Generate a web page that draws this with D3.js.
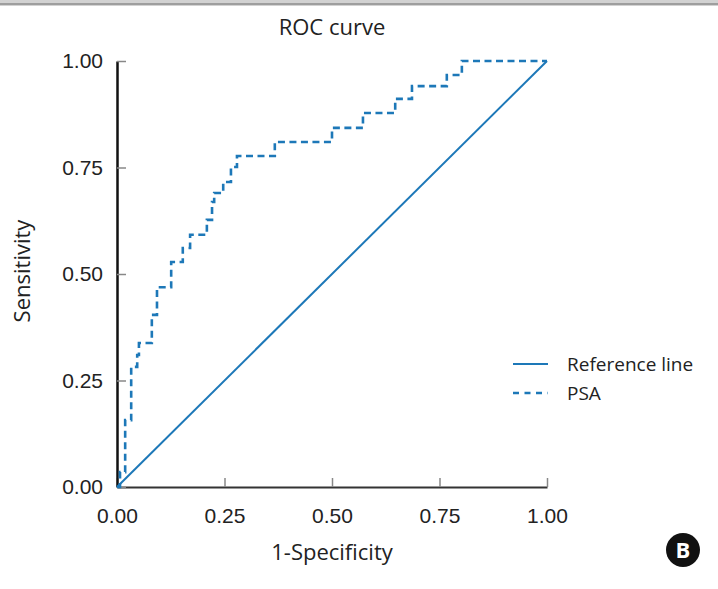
<!DOCTYPE html>
<html>
<head>
<meta charset="utf-8">
<script src="https://cdn.jsdelivr.net/npm/d3@7"></script>
<style>
  html, body { margin: 0; padding: 0; background: #fff; }
  svg { display: block; font-family: "Open Sans", "Noto Sans", sans-serif; }
</style>
</head>
<body>
<div id="chart"></div>
<script>
// ── Data ──
const ticks = [0, 0.25, 0.5, 0.75, 1];
const refFpr = [0, 1];
const refTpr = [0, 1];
// PSA ROC operating points (1-specificity, sensitivity)
const psaFpr = [0, 0.007, 0.019, 0.033, 0.047, 0.051, 0.081, 0.093, 0.126, 0.153, 0.170, 0.209, 0.221,
                0.226, 0.247, 0.265, 0.279, 0.367, 0.500, 0.572, 0.647, 0.686, 0.767, 0.802, 1.000];
const psaTpr = [0, 0.035, 0.157, 0.282, 0.310, 0.338, 0.404, 0.469, 0.528, 0.561, 0.592, 0.627, 0.669,
                0.690, 0.716, 0.751, 0.777, 0.810, 0.843, 0.878, 0.911, 0.941, 0.967, 1.000, 1.000];
const legendLabels = ['Reference line', 'PSA'];

const BLUE = '#1d78b8';
const W = 718, H = 589;
const plot = { left: 117, right: 547, top: 61, bottom: 487 };

const svg = d3.select('#chart').append('svg').attr('width', W).attr('height', H);

// grey strip across the top edge
svg.append('rect').attr('x', 0).attr('y', 0).attr('width', W).attr('height', 6).attr('fill', '#d2d2d2');
svg.append('line').attr('x1', 0).attr('x2', W).attr('y1', 4).attr('y2', 4)
  .attr('stroke', '#8c8c8c').attr('stroke-width', 1.5);

const x = d3.scaleLinear().domain([0, 1]).range([plot.left, plot.right]);
const y = d3.scaleLinear().domain([0, 1]).range([plot.bottom, plot.top]);
const fmt = d3.format('.2f');

// ── Axes ──
const gx = svg.append('g').attr('transform', 'translate(0,' + plot.bottom + ')')
  .call(d3.axisBottom(x).tickValues(ticks).tickFormat(fmt).tickSizeInner(-9).tickSizeOuter(0).tickPadding(21));
gx.select('.domain').attr('stroke', '#333').attr('stroke-width', 2);
gx.selectAll('.tick line').attr('stroke', '#888').attr('stroke-width', 1.5);
gx.selectAll('.tick text').style('font-size', '21px').attr('fill', '#222');

const gy = svg.append('g').attr('transform', 'translate(' + plot.left + ',0)')
  .call(d3.axisLeft(y).tickValues(ticks).tickFormat(fmt).tickSizeInner(-9).tickSizeOuter(0).tickPadding(14));
gy.select('.domain').attr('stroke', '#111').attr('stroke-width', 2.5);
gy.selectAll('.tick line').attr('stroke', '#888').attr('stroke-width', 1.5);
gy.selectAll('.tick text').style('font-size', '21px').attr('fill', '#222');

// ── Lines ──
const refLine = d3.line().x((d, i) => x(refFpr[i])).y((d, i) => y(refTpr[i]));
svg.append('path').datum(refFpr).attr('d', refLine)
  .attr('fill', 'none').attr('stroke', BLUE).attr('stroke-width', 2);

const psaLine = d3.line().x((d, i) => x(psaFpr[i])).y((d, i) => y(psaTpr[i])).curve(d3.curveStepAfter);
svg.append('path').datum(psaFpr).attr('d', psaLine)
  .attr('fill', 'none').attr('stroke', BLUE).attr('stroke-width', 2.6)
  .attr('stroke-dasharray', '7,4.5');

// ── Titles ──
svg.append('text').attr('x', 332).attr('y', 35).attr('text-anchor', 'middle')
  .style('font-size', '22px').attr('fill', '#222').text('ROC curve');
svg.append('text').attr('x', 332).attr('y', 560).attr('text-anchor', 'middle')
  .style('font-size', '22px').attr('fill', '#222').text('1-Specificity');
svg.append('text').attr('transform', 'translate(30,271) rotate(-90)').attr('text-anchor', 'middle')
  .style('font-size', '22px').attr('fill', '#222').text('Sensitivity');

// ── Legend ──
const legY = [364, 393];
legendLabels.forEach((lab, i) => {
  svg.append('line').attr('x1', 513).attr('x2', 548).attr('y1', legY[i]).attr('y2', legY[i])
    .attr('stroke', BLUE).attr('stroke-width', i === 0 ? 2 : 2.6)
    .attr('stroke-dasharray', i === 0 ? null : '6,5.5');
  svg.append('text').attr('x', 567).attr('y', legY[i]).attr('dy', '0.35em')
    .style('font-size', '19px').attr('fill', '#222').text(lab);
});

// ── Panel badge ──
svg.append('circle').attr('cx', 683).attr('cy', 550).attr('r', 17).attr('fill', '#111');
svg.append('text').attr('x', 683).attr('y', 550).attr('dy', '0.36em').attr('text-anchor', 'middle')
  .style('font-size', '22px').style('font-weight', 'bold').attr('fill', '#fff').text('B');
</script>
</body>
</html>
